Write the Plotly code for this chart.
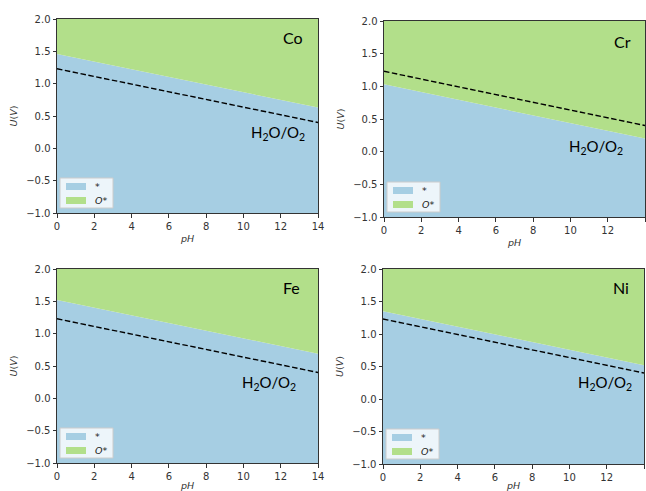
import plotly.graph_objects as go

# ---- data ----
elements = ["Co", "Cr", "Fe", "Ni"]
boundary_pH = [0, 14]
boundary_U_pH0 = [1.46, 1.03, 1.52, 1.35]    # * / O* boundary at pH 0
boundary_U_pH14 = [0.63, 0.20, 0.69, 0.52]   # * / O* boundary at pH 14
water_pH = [0, 14]
water_U = [1.23, 0.40]                       # H2O/O2 line
pH_lim = [0, 14]
U_lim = [-1.0, 2.0]
x_ticks = [0, 2, 4, 6, 8, 10, 12, 14]
y_ticks = [-1.0, -0.5, 0.0, 0.5, 1.0, 1.5, 2.0]
legend_labels = ["*", "<i>O</i>*"]

BLUE = "#a6cee3"
GREEN = "#b2df8a"
W, H = 646, 491

# panel pixel boxes (left, right, top, bottom)
boxes = [(57, 318, 19, 213), (384, 645, 21, 217), (57, 318, 269, 463), (383, 644, 269, 464)]
elem_pos = [(12.66, 1.72), (12.77, 1.68), (12.6, 1.72), (12.77, 1.71)]
water_lbl_pos = [(11.86, 0.24), (11.37, 0.07), (11.37, 0.24), (11.9, 0.24)]


def px(xp):
    return xp / W


def py(yp):
    return 1 - yp / H


fig = go.Figure()
annotations = []
shapes = []
layout = {}
for i, el in enumerate(elements):
    n = "" if i == 0 else str(i + 1)
    xa, ya = "x" + n, "y" + n
    b0, b14 = boundary_U_pH0[i], boundary_U_pH14[i]
    # * region
    fig.add_trace(go.Scatter(
        x=[pH_lim[0], pH_lim[1], boundary_pH[1], boundary_pH[0]],
        y=[U_lim[0], U_lim[0], b14, b0],
        fill="toself", fillcolor=BLUE, mode="none", name=legend_labels[0],
        xaxis=xa, yaxis=ya, showlegend=False, hoverinfo="skip"))
    # O* region
    fig.add_trace(go.Scatter(
        x=[boundary_pH[0], boundary_pH[1], pH_lim[1], pH_lim[0]],
        y=[b0, b14, U_lim[1], U_lim[1]],
        fill="toself", fillcolor=GREEN, mode="none", name=legend_labels[1],
        xaxis=xa, yaxis=ya, showlegend=False, hoverinfo="skip"))
    # water line
    fig.add_trace(go.Scatter(
        x=water_pH, y=water_U, mode="lines",
        line=dict(color="black", width=1.4, dash="5.5px,2.5px"),
        showlegend=False, xaxis=xa, yaxis=ya, hoverinfo="skip"))

    l, r, t, btm = boxes[i]
    axis_common = dict(showline=True, mirror=True, linecolor="#333", linewidth=1,
                       ticks="outside", ticklen=3.5, tickcolor="#333", tickwidth=1,
                       showgrid=False, zeroline=False, automargin=False,
                       tickfont=dict(family="DejaVu Sans", size=10, color="#333"))
    layout["xaxis" + n] = dict(domain=[px(l), px(r)], range=pH_lim, anchor=ya,
                               tickvals=x_ticks,
                               title=dict(text="<i>pH</i>", standoff=4,
                                          font=dict(family="DejaVu Sans", size=9.5, color="#333")),
                               **axis_common)
    layout["yaxis" + n] = dict(domain=[py(btm), py(t)], range=U_lim, anchor=xa,
                               tickvals=y_ticks, tickformat=".1f",
                               title=dict(text="<i>U</i>(<i>V</i>)", standoff=6,
                                          font=dict(family="DejaVu Sans", size=9.5, color="#333")),
                               **axis_common)

    # legend box (drawn manually, matplotlib style)
    fl, fb = l + 3, btm - 5
    fr, ft = fl + 53, fb - 30
    shapes.append(dict(type="rect", xref="paper", yref="paper",
                       x0=px(fl), x1=px(fr), y0=py(fb), y1=py(ft),
                       fillcolor="rgba(255,255,255,0.8)", line=dict(color="#cccccc", width=1),
                       layer="above"))
    for k, (col, lab) in enumerate(zip([BLUE, GREEN], legend_labels)):
        yc = ft + 8.5 + 14 * k
        shapes.append(dict(type="rect", xref="paper", yref="paper",
                           x0=px(fl + 6), x1=px(fl + 26), y0=py(yc + 3.5), y1=py(yc - 3.5),
                           fillcolor=col, line=dict(width=0), layer="above"))
        annotations.append(dict(x=px(fl + 33), y=py(yc), xref="paper", yref="paper",
                                xanchor="left", yanchor="middle", text=lab, showarrow=False,
                                font=dict(family="DejaVu Sans", size=9.5, color="#222")))

    ex, ey = elem_pos[i]
    annotations.append(dict(x=ex, y=ey, xref=xa, yref=ya, text=el, showarrow=False,
                            font=dict(family="Lato", size=16, color="black")))
    wx, wy = water_lbl_pos[i]
    annotations.append(dict(x=wx, y=wy, xref=xa, yref=ya,
                            text="H<sub>2</sub>O/O<sub>2</sub>", showarrow=False,
                            font=dict(family="Lato", size=15, color="black")))

fig.update_layout(width=W, height=H, margin=dict(l=0, r=0, t=0, b=0),
                  paper_bgcolor="white", plot_bgcolor="white", showlegend=False,
                  annotations=annotations, shapes=shapes, **layout)
fig.write_html("out.html")
